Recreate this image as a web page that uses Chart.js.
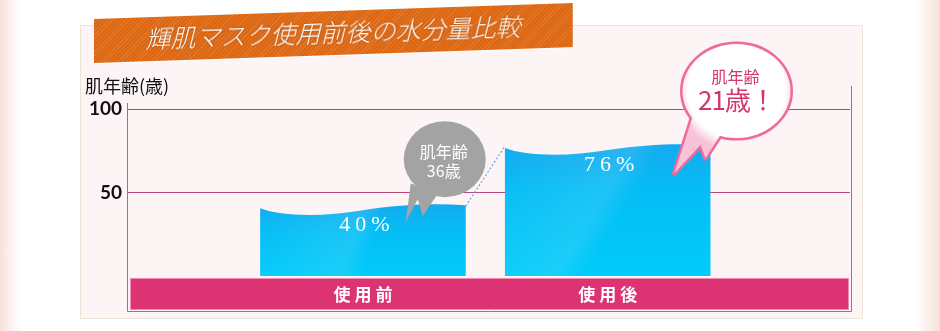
<!DOCTYPE html>
<html lang="ja">
<head>
<meta charset="utf-8">
<script src="https://cdn.jsdelivr.net/npm/chart.js@4.4.1/dist/chart.umd.min.js"></script>
<style>
html,body{margin:0;padding:0;}
body{
    width:940px;height:331px;overflow:hidden;position:relative;
    background:linear-gradient(to right,#f6e1da 0,#fdf4f1 12px,#fff 22px,#fff 917px,#fcf1ed 926px,#f6e1da 940px);
    font-family:"Noto Sans CJK JP",sans-serif;
}
#panel{
    position:absolute;left:80px;top:25px;width:781px;height:292px;
    background:#fdf5f5;border:1px solid #ece4d6;
}
#wrap{position:absolute;left:0;top:0;width:940px;height:331px;}
#banner{
    position:absolute;left:94px;top:19px;width:478px;height:44px;
    transform:skewY(-1.9deg);transform-origin:left top;
    background:
      repeating-linear-gradient(-45deg,rgba(255,255,255,.13) 0 1px,rgba(0,0,0,0) 1px 3px),
      #dd6610;
    color:#fff;text-align:center;
    font-size:25px;line-height:40px;font-style:italic;font-weight:300;
    text-shadow:0 0 2px rgba(120,40,0,.6);
}
</style>
</head>
<body>
<div id="panel"></div>
<div id="wrap"><canvas id="moistChart"></canvas></div>
<div id="banner">輝肌マスク使用前後の水分量比較</div>

<script>
// =========================
// データ
// =========================

const categories = ["使用前", "使用後"];
const moisture = [40, 76];          // 水分量 (%)
const yTickValues = [50, 100];
const ageTitle = "肌年齢";
const skinAge = ["36歳", "21歳！"];
const yAxisTitle = "肌年齢(歳)";

// =========================
// 描画プラグイン
// =========================

function wavePath(ctx, left, right, top, base){
    const w = right - left;
    ctx.beginPath();
    ctx.moveTo(left, top - 1);
    ctx.bezierCurveTo(left + w*0.1, top + 7, left + w*0.3, top + 8, left + w*0.5, top + 1);
    ctx.bezierCurveTo(left + w*0.68, top - 5, left + w*0.85, top - 6, right, top - 4);
    ctx.lineTo(right, base);
    ctx.lineTo(left, base);
    ctx.closePath();
}

// 吹き出し：楕円＋二股のしっぽ (座標は中心からの相対)
function bubbleParts(ctx, cx, cy, rx, ry, tail){
    return {
        body(){
            ctx.beginPath();
            ctx.ellipse(cx, cy, rx, ry, 0, 0, Math.PI*2);
        },
        tail(){
            ctx.beginPath();
            ctx.moveTo(cx + tail[0][0], cy + tail[0][1]);
            tail.slice(1).forEach(p => ctx.lineTo(cx + p[0], cy + p[1]));
            ctx.closePath();
        }
    };
}

const decor = {
    id:"decor",

    beforeDraw(chart){
        const {ctx, chartArea:a} = chart;
        ctx.save();

        // 下の帯
        ctx.fillStyle = "#dc3373";
        ctx.fillRect(a.left + 2, a.bottom + 2, a.right - a.left - 3, 31);
        ctx.strokeStyle = "#f08ab0";
        ctx.lineWidth = 1;
        ctx.strokeRect(a.left + 2.5, a.bottom + 2.5, a.right - a.left - 4, 31);

        // 枠線
        ctx.strokeStyle = "#d2558c";
        ctx.beginPath();
        ctx.moveTo(a.left - 0.5, a.top - 6);
        ctx.lineTo(a.left - 0.5, a.bottom + 35.5);
        ctx.lineTo(a.right + 1.5, a.bottom + 35.5);
        ctx.lineTo(a.right + 1.5, a.top - 23);
        ctx.stroke();

        // 軸タイトル
        ctx.fillStyle = "#111";
        ctx.font = "18px 'Noto Sans CJK JP'";
        ctx.textAlign = "left";
        ctx.textBaseline = "alphabetic";
        ctx.fillText(yAxisTitle, a.left - 43, a.top - 16);

        // カテゴリ
        const xs = chart.scales.x;
        ctx.fillStyle = "#fff";
        ctx.font = "bold 17px 'Noto Sans CJK JP'";
        ctx.textAlign = "center";
        ctx.textBaseline = "middle";
        ctx.letterSpacing = "4px";
        categories.forEach((c,i) => {
            ctx.fillText(c, xs.getPixelForValue(i) + 2, a.bottom + 19);
        });
        ctx.restore();
    },

    beforeDatasetsDraw(chart){
        const {ctx} = chart;
        const bars = chart.getDatasetMeta(0).data;
        ctx.save();
        bars.forEach(bar => {
            const left = bar.x - bar.width/2;
            const right = bar.x + bar.width/2;
            const g = ctx.createLinearGradient(0, bar.y - 6, 0, bar.base);
            g.addColorStop(0, "#14a9ee");
            g.addColorStop(0.35, "#05bdf5");
            g.addColorStop(1, "#00cbfa");
            wavePath(ctx, left, right, bar.y, bar.base);
            ctx.fillStyle = g;
            ctx.fill();

            // うっすら光沢
            const h = ctx.createLinearGradient(left, bar.y, right, bar.base);
            h.addColorStop(0, "rgba(255,255,255,0)");
            h.addColorStop(0.45, "rgba(255,255,255,0.10)");
            h.addColorStop(0.55, "rgba(255,255,255,0)");
            ctx.fillStyle = h;
            ctx.fill();
        });
        ctx.restore();
    },

    afterDatasetsDraw(chart){
        const {ctx} = chart;
        const bars = chart.getDatasetMeta(0).data;
        ctx.save();
        ctx.fillStyle = "#fff";
        ctx.font = "22px 'Liberation Serif'";
        ctx.textAlign = "center";
        ctx.textBaseline = "middle";
        ctx.letterSpacing = "5px";
        bars.forEach((bar,i) => {
            ctx.fillText(moisture[i] + "%", bar.x + 4, bar.y + 16);
        });
        ctx.restore();
    },

    afterDraw(chart){
        const {ctx} = chart;
        const [b1, b2] = chart.getDatasetMeta(0).data;
        ctx.save();

        // 点線
        ctx.strokeStyle = "#6aa6da";
        ctx.lineWidth = 1.2;
        ctx.setLineDash([2,2]);
        ctx.beginPath();
        ctx.moveTo(b1.x + b1.width/2, b1.y - 3);
        ctx.lineTo(b2.x - b2.width/2, b2.y - 3);
        ctx.stroke();
        ctx.setLineDash([]);

        // 吹き出し1 (グレー)
        let cx = b1.x + b1.width/2 - 21;
        let cy = b1.y - 50;
        const g1 = bubbleParts(ctx, cx, cy, 41, 38,
            [[-34,24],[-39,63],[-27,40],[-22,57],[-8,36]]);
        ctx.fillStyle = "#a3a3a3";
        g1.body(); ctx.fill();
        g1.tail(); ctx.fill();

        ctx.fillStyle = "#fff";
        ctx.textAlign = "center";
        ctx.textBaseline = "middle";
        ctx.font = "16px 'Noto Sans CJK JP'";
        ctx.fillText(ageTitle, cx - 1, cy - 7);
        ctx.font = "16px 'Noto Sans CJK JP'";
        ctx.fillText(skinAge[0], cx - 1, cy + 12);

        // 吹き出し2 (ピンク枠)
        cx = b2.x + b2.width/2 + 26;
        cy = b2.y - 58;
        const g2 = bubbleParts(ctx, cx, cy, 54, 47,
            [[-44,26],[-62,82],[-36,54],[-31,67],[-16,44]]);
        ctx.strokeStyle = "#ec6c9e";
        ctx.lineWidth = 5;
        ctx.lineJoin = "round";
        g2.body(); ctx.stroke();
        g2.tail(); ctx.stroke();

        const rg = ctx.createRadialGradient(cx, cy - 4, 20, cx, cy, 60);
        rg.addColorStop(0, "#ffffff");
        rg.addColorStop(0.72, "#ffffff");
        rg.addColorStop(1, "#f8c2d7");
        ctx.fillStyle = rg;
        g2.body(); ctx.fill();
        g2.tail(); ctx.fill();

        ctx.fillStyle = "#d2366f";
        ctx.font = "16px 'Noto Sans CJK JP'";
        ctx.fillText(ageTitle, cx - 1, cy - 14);
        ctx.font = "26px 'Noto Sans CJK JP'";
        ctx.letterSpacing = "-1px";
        ctx.fillText(skinAge[1], cx, cy + 9);

        ctx.restore();
    }
};

// =========================
// グラフ
// =========================

new Chart(
document.getElementById("moistChart"),
{
    type:"bar",

    data:{
        datasets:[{
            label:"水分量",
            data:moisture.map((v,i) => ({x:i, y:v})),
            backgroundColor:"rgba(0,0,0,0)",
            borderWidth:0,
            categoryPercentage:1,
            barPercentage:0.84
        }]
    },

    options:{
        responsive:true,
        maintainAspectRatio:false,
        animation:false,

        layout:{
            padding:{top:109, right:90, bottom:20, left:0}
        },

        plugins:{
            legend:{display:false},
            tooltip:{enabled:false}
        },

        scales:{
            x:{
                type:"linear",
                offset:false,
                min:-0.96,
                max:1.99,
                afterBuildTicks(s){
                    s.ticks = categories.map((c,i) => ({value:i}));
                },
                grid:{display:false},
                border:{display:false},
                ticks:{display:false},
                afterFit(s){ s.height = 35; }
            },

            y:{
                min:0,
                max:100,
                z:1,
                afterBuildTicks(s){
                    s.ticks = yTickValues.map(v => ({value:v}));
                },
                afterFit(s){ s.width = 128; },
                grid:{
                    color:"#b8467f",
                    drawTicks:false
                },
                border:{display:false},
                ticks:{
                    padding:6,
                    color:"#111",
                    font:{family:"Lato", size:19, weight:"bold"}
                }
            }
        }
    },

    plugins:[decor]
});
</script>
</body>
</html>
